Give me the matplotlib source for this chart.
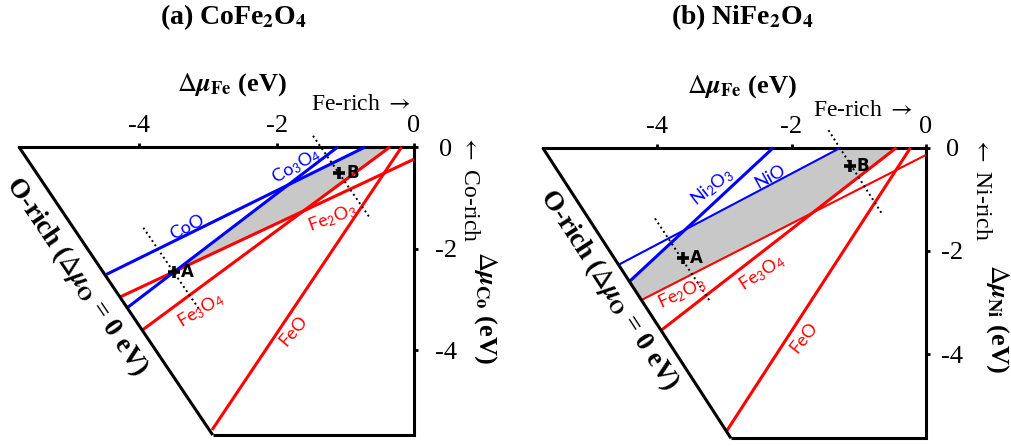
import numpy as np
import matplotlib.pyplot as plt

plt.rcParams['font.family'] = ['Liberation Serif', 'DejaVu Serif']
plt.rcParams['axes.unicode_minus'] = False
plt.rcParams['mathtext.fontset'] = 'custom'
plt.rcParams['mathtext.rm'] = 'Lato'
plt.rcParams['mathtext.it'] = 'Lato:italic'
plt.rcParams['mathtext.bf'] = 'Lato:bold'

# (a) CoFe2O4, points are (dmu_Fe, dmu_Co) in eV
a_xlim = (-5.75, 0.0)
a_ylim = (-5.67, 0.0)
a_orich = [(-5.75, 0.0), (-2.93, -5.67)]
a_coo = [(-4.48, -2.51), (-0.71, 0.0)]
a_co3o4 = [(-4.17, -3.16), (-1.11, 0.0)]
a_fe2o3 = [(-4.29, -2.96), (0.0, -0.24)]
a_fe3o4 = [(-3.95, -3.60), (-0.35, 0.0)]
a_feo = [(-2.94, -5.57), (-0.18, 0.0)]
a_pt_A = (-3.50, -2.47)
a_pt_B = (-1.09, -0.52)
a_cut_A = [(-3.94, -1.59), (-3.12, -3.21)]
a_cut_B = [(-1.47, 0.22), (-0.65, -1.38)]

# (b) NiFe2O4, points are (dmu_Fe, dmu_Ni) in eV
b_xlim = (-5.70, 0.0)
b_ylim = (-5.63, 0.0)
b_orich = [(-5.70, 0.0), (-2.90, -5.63)]
b_nio = [(-4.56, -2.26), (-1.27, 0.0)]
b_ni2o3 = [(-4.40, -2.58), (-2.27, 0.0)]
b_fe2o3 = [(-4.23, -2.95), (0.0, -0.14)]
b_fe3o4 = [(-3.93, -3.53), (-0.44, 0.0)]
b_feo = [(-2.97, -5.50), (-0.23, 0.0)]
b_pt_A = (-3.62, -2.13)
b_pt_B = (-1.13, -0.35)
b_cut_A = [(-4.03, -1.37), (-3.21, -2.98)]
b_cut_B = [(-1.45, 0.34), (-0.66, -1.27)]

ticks = [-4, -2, 0]
BLUE = '#0000ff'
RED = '#ff0000'
GRAY = '#c8c8c8'
W, H = 1011, 446


def line_y(seg, x):
    (x0, y0), (x1, y1) = seg
    return y0 + (y1 - y0) * (x - x0) / (x1 - x0)


def seg_plot(ax, seg, **kw):
    xs, ys = zip(*seg)
    ax.plot(xs, ys, solid_capstyle='butt', clip_on=False, **kw)


def fpos(px, py):
    return px / W, 1 - py / H


fig = plt.figure(figsize=(10.11, 4.46), dpi=100)


def panel(rect, xlim, ylim, orich, blues, reds, ptA, ptB, cutA, cutB, pad_r):
    ax = fig.add_axes(rect)
    ax.set_xlim(*xlim)
    ax.set_ylim(*ylim)
    ax.set_facecolor('none')
    for s in ['left', 'bottom']:
        ax.spines[s].set_visible(False)
    for s in ['top', 'right']:
        ax.spines[s].set_linewidth(2.2)
    ax.xaxis.tick_top()
    ax.yaxis.tick_right()
    ax.set_xticks(ticks)
    ax.set_yticks(ticks)
    ax.tick_params(axis='x', length=3, width=2, labelsize=19, pad=4)
    ax.tick_params(axis='y', length=3, width=2, labelsize=19, pad=pad_r)
    for lb in ax.get_yticklabels():
        lb.set_horizontalalignment('center')

    # stability region
    x = np.linspace(xlim[0], 0, 2000)
    upper = np.minimum.reduce([np.zeros_like(x)] + [line_y(s, x) for s, _ in blues])
    lower = np.maximum.reduce([line_y(orich, x)] + [line_y(s, x) for s, _ in reds])
    ax.fill_between(x, lower, upper, where=upper > lower, color=GRAY, lw=0, zorder=1)

    # frame: O-rich line and bottom edge
    seg_plot(ax, orich, color='k', lw=2.2, zorder=4)
    seg_plot(ax, [orich[1], (0, ylim[0])], color='k', lw=2.2, zorder=4)

    for s, lw in reds:
        seg_plot(ax, s, color=RED, lw=lw, zorder=3)
    for s, lw in blues:
        seg_plot(ax, s, color=BLUE, lw=lw, zorder=3)

    for c in (cutA, cutB):
        xs, ys = zip(*c)
        ax.plot(xs, ys, color='k', lw=1.4, ls=(0, (1, 1.6)), clip_on=False, zorder=5)
    for p, nm in ((ptA, 'A'), (ptB, 'B')):
        ax.plot(*p, marker='+', ms=9, mew=2.6, color='k', zorder=6)
        ax.annotate(nm, p, xytext=(5, 0), textcoords='offset points', ha='left', va='center',
                    fontsize=12, fontweight='bold', family='DejaVu Sans', zorder=6)
    return ax


axa = panel([19 / W, 11 / H, 395 / W, 288 / H], a_xlim, a_ylim, a_orich,
            [(a_coo, 2.2), (a_co3o4, 2.2)],
            [(a_fe2o3, 2.2), (a_fe3o4, 2.2), (a_feo, 2.2)],
            a_pt_A, a_pt_B, a_cut_A, a_cut_B, 20)
axb = panel([542.7 / W, 7.7 / H, 383.3 / W, 290.6 / H], b_xlim, b_ylim, b_orich,
            [(b_nio, 1.5), (b_ni2o3, 2.2)],
            [(b_fe2o3, 1.5), (b_fe3o4, 2.2), (b_feo, 2.2)],
            b_pt_A, b_pt_B, b_cut_A, b_cut_B, 16)

lab = dict(fontsize=13, family='Lato', ha='center', va='center', rotation_mode='anchor', zorder=5)
axa.text(-3.30, -1.57, 'CoO', color=BLUE, rotation=27, **lab)
axa.text(-1.72, -0.38, 'Co$_3$O$_4$', color=BLUE, rotation=30, **lab)
axa.text(-1.18, -1.40, 'Fe$_2$O$_3$', color=RED, rotation=20, **lab)
axa.text(-3.10, -3.21, 'Fe$_3$O$_4$', color=RED, rotation=31, **lab)
axa.text(-1.75, -3.62, 'FeO', color=RED, rotation=50, **lab)

axb.text(-3.18, -0.76, 'Ni$_2$O$_3$', color=BLUE, rotation=38, **lab)
axb.text(-2.31, -0.57, 'NiO', color=BLUE, rotation=29, **lab)
axb.text(-3.63, -2.82, 'Fe$_2$O$_3$', color=RED, rotation=25, **lab)
axb.text(-2.44, -2.43, 'Fe$_3$O$_4$', color=RED, rotation=33, **lab)
axb.text(-1.82, -3.67, 'FeO', color=RED, rotation=52, **lab)

ser = dict(ha='center', va='center', math_fontfamily='stix')
fig.text(*fpos(234, 17), r'(a) CoFe$_\mathbf{2}$O$_\mathbf{4}$', fontsize=20, fontweight='bold', **ser)
fig.text(*fpos(742, 17), r'(b) NiFe$_\mathbf{2}$O$_\mathbf{4}$', fontsize=20, fontweight='bold', **ser)

for cx, cy in ((232, 85), (742, 87)):
    fig.text(*fpos(cx, cy), r'$\Delta\boldsymbol{\mu}_\mathbf{Fe}$ (eV)', fontsize=19, fontweight='bold', **ser)
fig.text(*fpos(485, 307), r'$\Delta\boldsymbol{\mu}_\mathbf{Co}$ (eV)', fontsize=19, fontweight='bold', rotation=270, **ser)
fig.text(*fpos(997, 318), r'$\Delta\boldsymbol{\mu}_\mathbf{Ni}$ (eV)', fontsize=19, fontweight='bold', rotation=270, **ser)

fig.text(*fpos(361, 105), r'Fe-rich $\rightarrow$', fontsize=17, **ser)
fig.text(*fpos(863, 111), r'Fe-rich $\rightarrow$', fontsize=17, **ser)
fig.text(*fpos(470, 188), r'$\leftarrow$ Co-rich', fontsize=17, rotation=270, **ser)
fig.text(*fpos(982, 188), r'$\leftarrow$ Ni-rich', fontsize=17, rotation=270, **ser)

orich_txt = r'O-rich ($\Delta\boldsymbol{\mu}_\mathbf{O}$ = 0 eV)'
fig.text(*fpos(77, 276), orich_txt, fontsize=19.5, fontweight='bold', rotation=-56, rotation_mode='anchor', **ser)
fig.text(*fpos(609, 290), orich_txt, fontsize=19.5, fontweight='bold', rotation=-57, rotation_mode='anchor', **ser)

fig.savefig('out.png', dpi=100)
